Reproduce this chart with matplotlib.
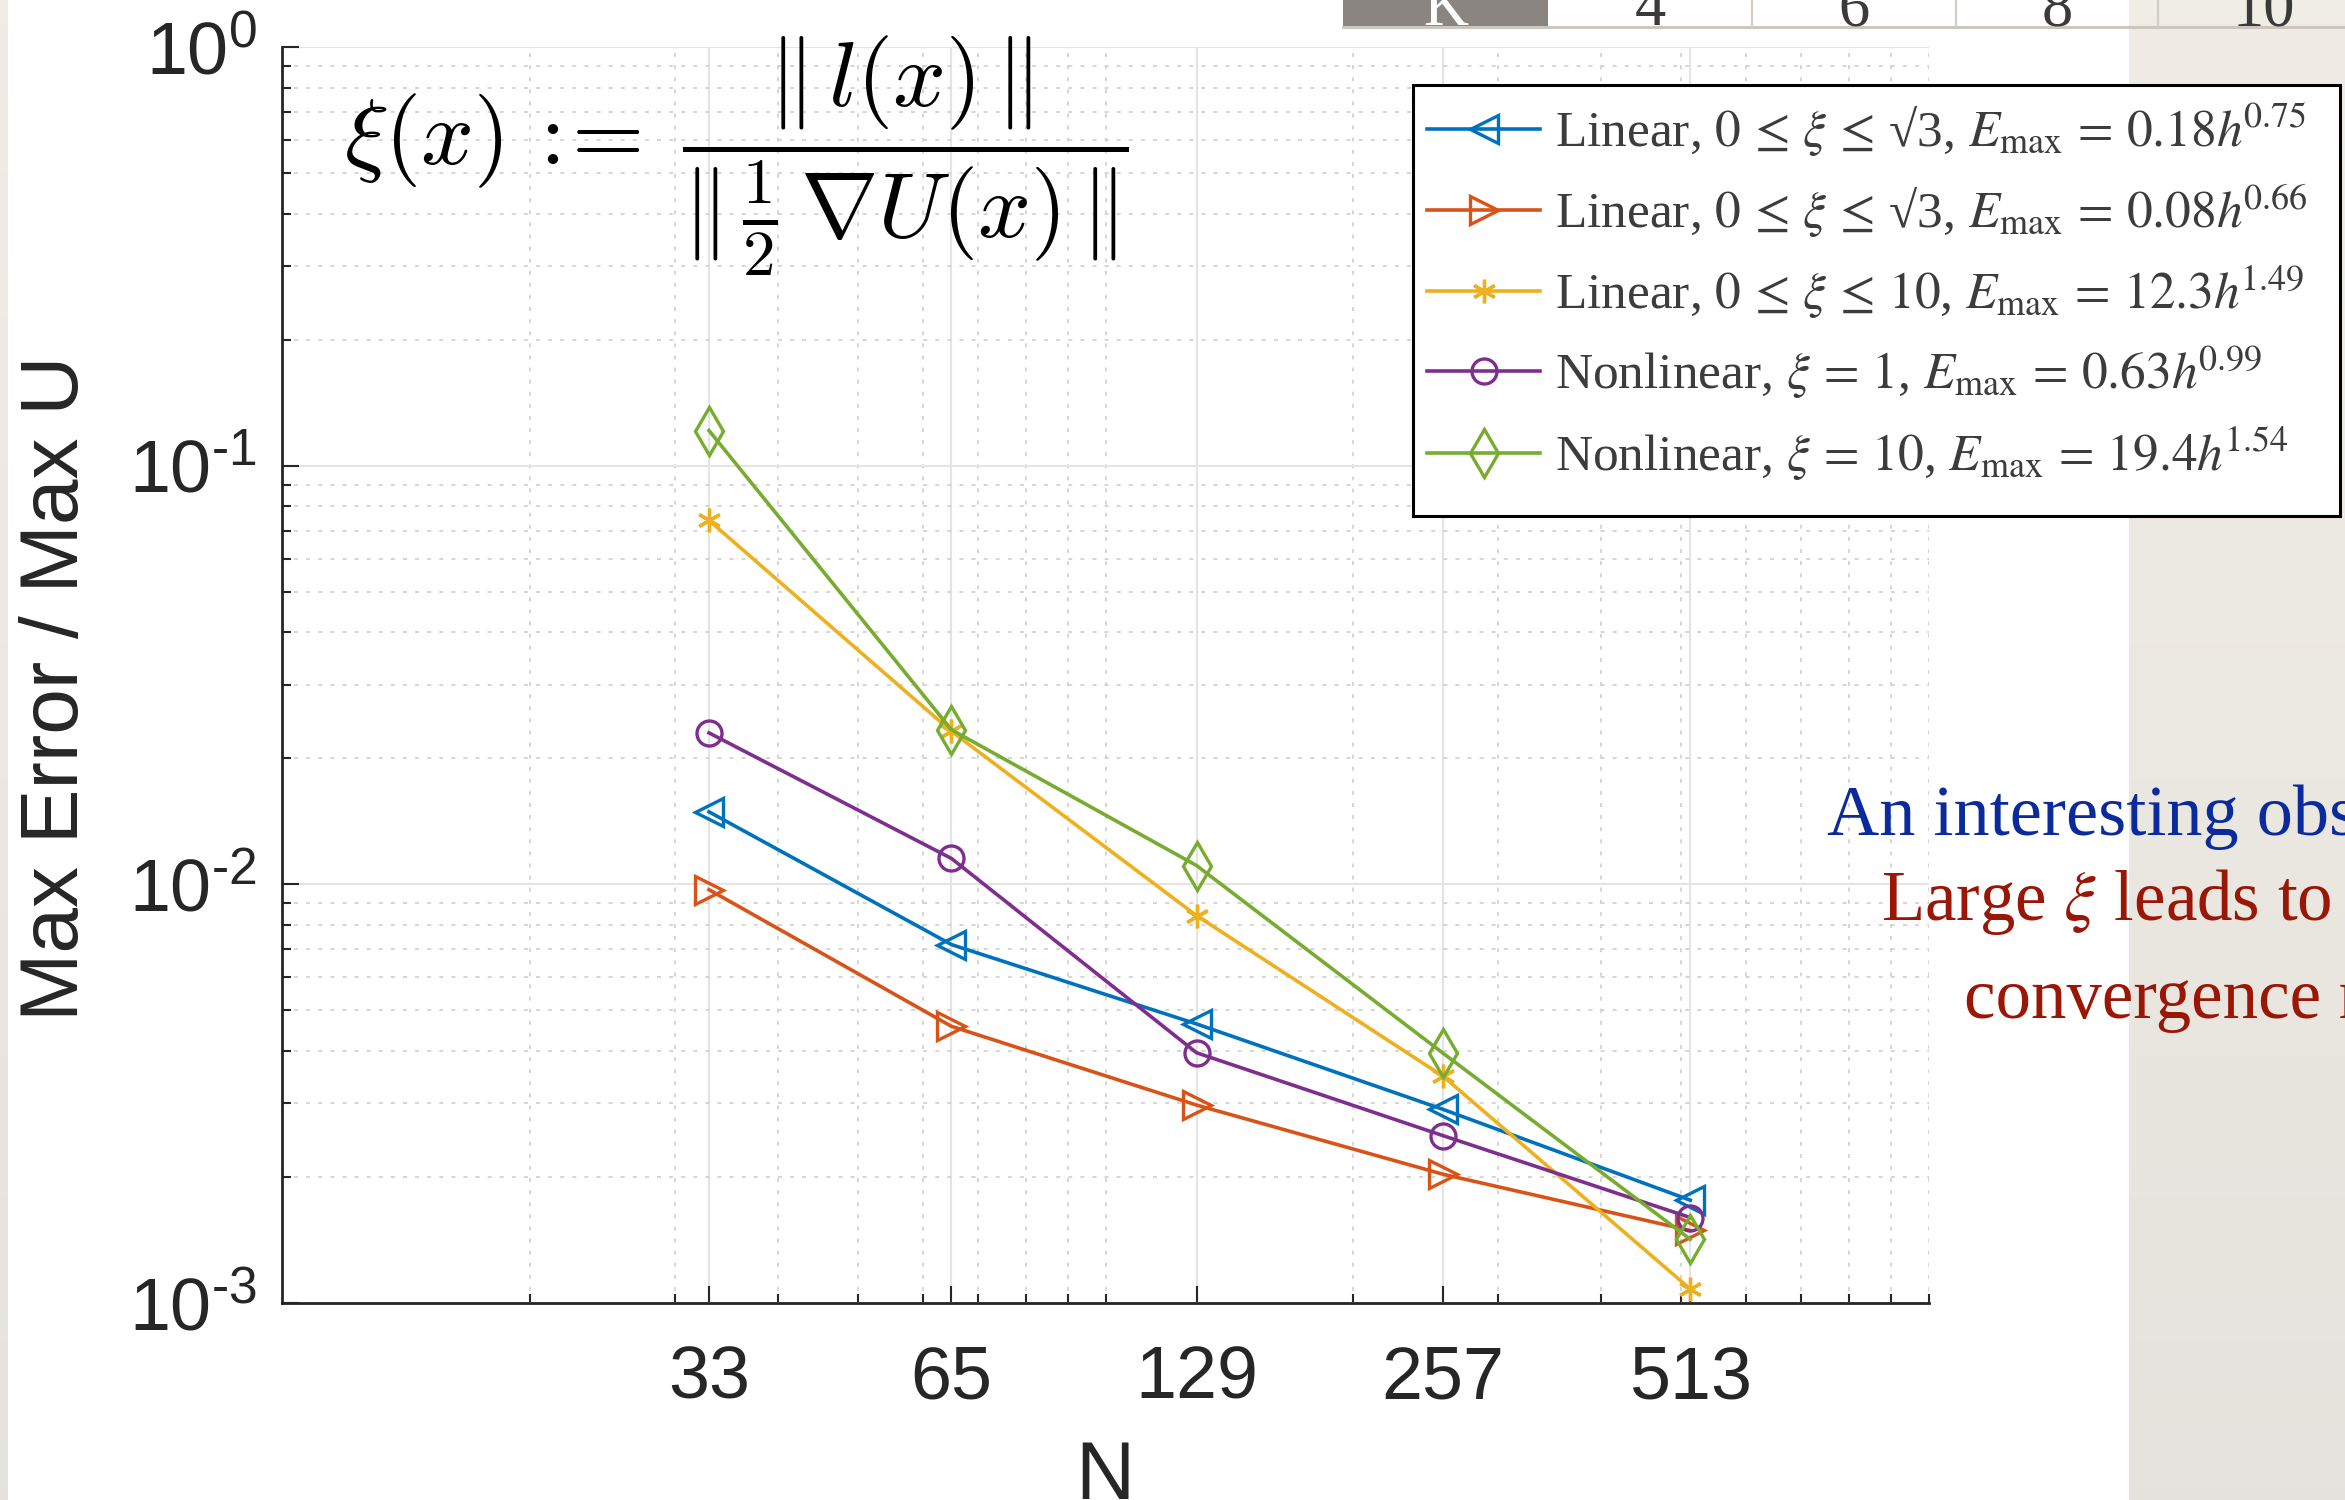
import numpy as np
import matplotlib
matplotlib.use("Agg")
import matplotlib.pyplot as plt
from matplotlib.ticker import FixedLocator, FixedFormatter, NullFormatter
from matplotlib.patches import Rectangle

# ---------------- data ----------------
N = [33, 65, 129, 257, 513]
linear_sqrt3_a = [0.0149, 0.00718, 0.00464, 0.00290, 0.00176]
linear_sqrt3_b = [0.00971, 0.00458, 0.00297, 0.00203, 0.00149]
linear_10 = [0.0740, 0.0232, 0.00842, 0.00348, 0.00108]
nonlinear_1 = [0.0230, 0.01153, 0.00396, 0.00251, 0.00160]
nonlinear_10 = [0.1213, 0.0234, 0.01109, 0.00395, 0.00142]

series = [linear_sqrt3_a, linear_sqrt3_b, linear_10, nonlinear_1, nonlinear_10]
labels = [
    r"Linear, $0\,\leq\,\xi\,\leq\,$√3, $E_{\mathrm{max}}\,=\,0.18h^{\!0.75}$",
    r"Linear, $0\,\leq\,\xi\,\leq\,$√3, $E_{\mathrm{max}}\,=\,0.08h^{\!0.66}$",
    r"Linear, $0\,\leq\,\xi\,\leq\,10$, $E_{\mathrm{max}}\,=\,12.3h^{\!1.49}$",
    r"Nonlinear, $\xi\,=\,1$, $E_{\mathrm{max}}\,=\,0.63h^{\!0.99}$",
    r"Nonlinear, $\xi\,=\,10$, $E_{\mathrm{max}}\,=\,19.4h^{\!1.54}$",
]
colors = ["#0072BD", "#D95319", "#EDB120", "#7E2F8E", "#77AC30"]
markers = ["<", ">", (6, 2, 0), "o", "d"]
marker_sizes = [20, 20, 17, 18, 24]

x_ticks = N
x_tick_labels = [str(n) for n in N]
y_ticks = [1e-3, 1e-2, 1e-1, 1e0]
y_tick_labels = [r"$10^{\text{-}3}$", r"$10^{\text{-}2}$",
                 r"$10^{\text{-}1}$", r"$10^{0}$"]

table_header = "K"
table_values = ["4", "6", "8", "10"]
note_blue = "An interesting observation"
note_red = [r"Large $\xi$ leads to a faster", "convergence rate"]
formula = (r"$\xi(x)\,:\!\!=\;\dfrac{\Vert\, l(x)\, \Vert}"
           r"{\Vert\, \frac{1}{2}\,\nabla U(x)\, \Vert}$")

# ---------------- figure ----------------
W, H = 2345, 1500
plt.rcParams["mathtext.fontset"] = "custom"
plt.rcParams["mathtext.rm"] = "Liberation Sans"
plt.rcParams["mathtext.it"] = "Liberation Sans:italic"
plt.rcParams["mathtext.bf"] = "Liberation Sans:bold"
plt.rcParams["font.family"] = ["Liberation Sans", "DejaVu Sans"]

fig = plt.figure(figsize=(W / 100, H / 100), dpi=100)

def fx(px):
    return px / W

def fy(py):
    return 1 - py / H

# slide backdrop (pixel coordinates, y downward)
bg = fig.add_axes([0, 0, 1, 1], zorder=-10)
bg.set_xlim(0, W)
bg.set_ylim(H, 0)
bg.axis("off")
t = np.linspace(0, 1, 256)[:, None, None]
top_c = np.array([0.945, 0.930, 0.900])
bot_c = np.array([0.900, 0.890, 0.868])
bg.imshow(top_c + (bot_c - top_c) * t, extent=[0, W, H, 0], aspect="auto")
bg.add_patch(Rectangle((8, 0), 2129 - 8, H, facecolor="white", edgecolor="none"))

# table row peeking in at the top
cell_edges = [1343, 1548, 1752, 1956, 2158, 2370]
bg.add_patch(Rectangle((cell_edges[0], -5), cell_edges[1] - cell_edges[0], 32,
                       facecolor="#8a8580", edgecolor="none"))
bg.plot([cell_edges[0], cell_edges[-1]], [27, 27], color="#cbc7bf", lw=2.2)
for xe in cell_edges[2:-1]:
    bg.plot([xe, xe], [-5, 27], color="#d2cec6", lw=1.6)
bg.text((cell_edges[0] + cell_edges[1]) / 2, 25, table_header, color="white",
        fontsize=45, family="Liberation Serif", ha="center", va="baseline")
for i, v in enumerate(table_values):
    xc = (cell_edges[i + 1] + cell_edges[i + 2]) / 2
    bg.text(xc, 25, v, color="#3a3a3a", fontsize=45, family="Liberation Serif",
            ha="center", va="baseline")

# ---------------- main axes ----------------
ax = fig.add_axes([fx(282), fy(1303), fx(1929) - fx(282), fy(47) - fy(1303)])
ax.set_facecolor("none")
ax.set_xscale("log")
ax.set_yscale("log")
ax.set_xlim(10, 1000)
ax.set_ylim(1e-3, 1)

for yv, c, m, ms, lab in zip(series, colors, markers, marker_sizes, labels):
    ax.plot(N, yv, color=c, lw=2.6, marker=m, ms=ms, mfc="none", mec=c,
            mew=2.4, label=lab, clip_on=False, zorder=3)

ax.xaxis.set_major_locator(FixedLocator(x_ticks))
ax.xaxis.set_major_formatter(FixedFormatter(x_tick_labels))
x_minor = [k * 10 ** d for d in (1, 2) for k in range(2, 10)] + [100, 1000]
ax.xaxis.set_minor_locator(FixedLocator(x_minor))
ax.xaxis.set_minor_formatter(NullFormatter())
ax.yaxis.set_major_locator(FixedLocator(y_ticks))
ax.yaxis.set_major_formatter(FixedFormatter(y_tick_labels))
y_minor = [k * 10.0 ** d for d in (-3, -2, -1) for k in range(2, 10)]
ax.yaxis.set_minor_locator(FixedLocator(y_minor))
ax.yaxis.set_minor_formatter(NullFormatter())

ax.grid(which="major", color="#e4e4e4", lw=1.5, ls="-", zorder=0)
ax.grid(which="minor", color="#d2d2d2", lw=1.3, ls=(0, (2.2, 4.5)), zorder=0)
ax.set_axisbelow(True)

for s in ("top", "right"):
    ax.spines[s].set_visible(False)
for s in ("left", "bottom"):
    ax.spines[s].set_color("#262626")
    ax.spines[s].set_linewidth(2.0)

ax.tick_params(which="major", direction="in", length=12, width=1.5,
               color="#262626", labelsize=53, labelcolor="#262626")
ax.tick_params(which="minor", direction="in", length=6.5, width=1.5,
               color="#262626")
ax.tick_params(axis="x", which="major", pad=30)
ax.tick_params(axis="y", which="major", pad=18)

# legend: white framed box above the axes, entries on top of it
box = Rectangle((fx(1413), fy(516)), fx(2340) - fx(1413), fy(85) - fy(516),
                transform=fig.transFigure, facecolor="white", edgecolor="black",
                lw=2.2, zorder=2)
fig.add_artist(box)
handles, hlabels = ax.get_legend_handles_labels()
leg = fig.legend(handles, hlabels, loc="upper left",
                 bbox_to_anchor=(fx(1427), fy(101)), borderaxespad=0,
                 frameon=False, borderpad=0,
                 prop={"family": ["Liberation Serif", "DejaVu Serif"], "size": 37},
                 handlelength=2.2, handletextpad=0.3, labelspacing=0.45,
                 numpoints=1, labelcolor="#3c3c3c")
leg.set_zorder(3)
for txt in leg.get_texts():
    txt.set_math_fontfamily("stix")

# ---------------- labels and annotations ----------------
fig.text(fx(57), fy(688), "Max Error / Max U", rotation=90, ha="center",
         va="center", fontsize=59, color="#262626")
fig.text(fx(1105), fy(1499), "N", ha="center", va="baseline", fontsize=59,
         color="#262626")

fig.text(fx(344), fy(165), formula, fontsize=67, math_fontfamily="cm",
         ha="left", va="baseline", color="black")

fig.text(fx(1827), fy(835), note_blue, color="#0b2a9c", fontsize=52,
         family="Liberation Serif", ha="left", va="baseline")
fig.text(fx(1881), fy(920), note_red[0], color="#9a1606", fontsize=51,
         family="Liberation Serif", math_fontfamily="stix",
         ha="left", va="baseline")
fig.text(fx(1964), fy(1018), note_red[1], color="#9a1606", fontsize=51,
         family="Liberation Serif", ha="left", va="baseline")

fig.savefig("out.png", dpi=100)
